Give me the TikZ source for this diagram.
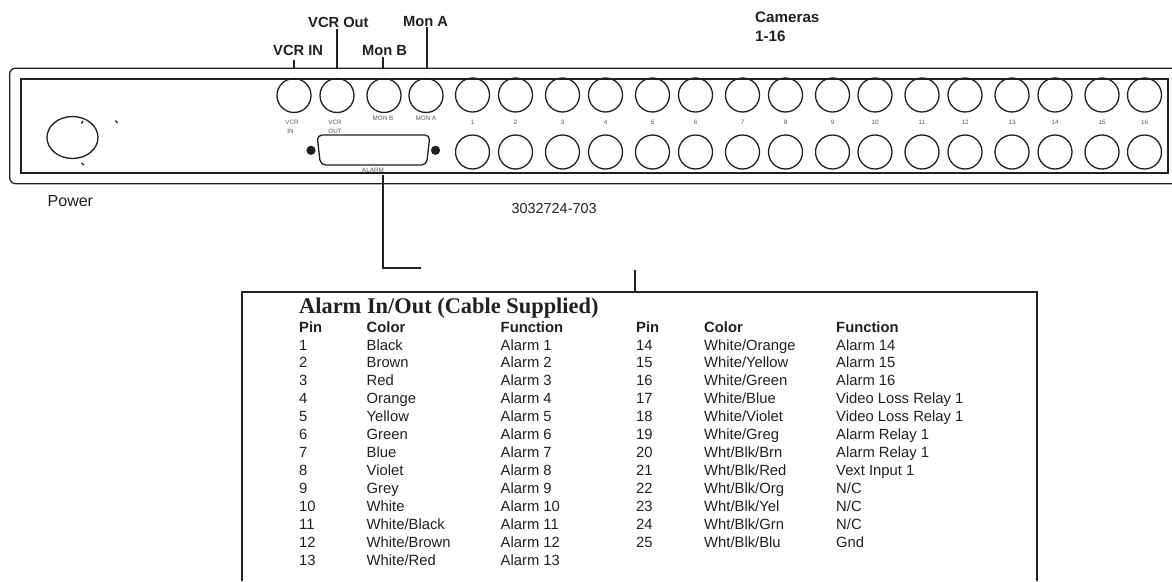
\documentclass[tikz,border=0pt]{standalone}
\usepackage{fontspec}
\usetikzlibrary{shapes.geometric}
\setmainfont{Liberation Sans}
\newfontfamily\serifbold[BoldFont={Liberation Serif Bold}]{Liberation Serif}
\definecolor{ink}{HTML}{231F20}
\tikzset{
 x=1pt,y=-1pt,
 panel/.style={draw=ink,line width=1.5pt,fill=none},
 jack/.style={circle,draw=ink,line width=1.3pt,minimum size=34pt,inner sep=0pt},
 wire/.style={draw=ink,line width=1.3pt},
 tiny/.style={font=\fontsize{6.3}{7}\selectfont,text=ink!75,inner sep=0pt,anchor=base},
 head/.style={font=\fontsize{14.7}{15}\selectfont\bfseries,text=ink,inner sep=0pt,anchor=base west},
 cell/.style={font=\fontsize{14.8}{15}\selectfont,text=ink,inner sep=0pt,anchor=base west},
 cellb/.style={font=\fontsize{14.8}{15}\selectfont\bfseries,text=ink,inner sep=0pt,anchor=base west},
}
\begin{document}
\begin{tikzpicture}
\useasboundingbox (0,0) rectangle (1172,581);
% panel
\node[draw=ink,line width=1.3pt,rounded corners=6pt,minimum width=1175pt,minimum height=115.5pt,anchor=north west,inner sep=0pt] (outer) at (9,67.5) {};
\node[panel,minimum width=1147pt,minimum height=94pt,anchor=north west,inner sep=0pt] (inner) at (20,78) {};
% jacks
\node[jack] (vin) at (294,95.5) {};
\node[jack] (vout) at (337,95.5) {};
\node[jack] (monb) at (384,95.5) {};
\node[jack] (mona) at (426,95.5) {};
\foreach \i/\x in {1/472.5,2/515.5,3/562.5,4/605.5,5/652.5,6/695.5,7/742.5,8/785.5,9/832.5,10/875,11/922,12/965,13/1012,14/1055,15/1102,16/1144.5}{
  \node[jack] (t\i) at (\x,95) {};
  \node[jack] (b\i) at (\x,152) {};
  \node[tiny] (n\i) at (\x,124) {\i};
}
% tiny labels
\node[tiny] (lv1) at (292,124) {VCR};
\node[tiny] (lv2) at (290.5,133) {IN};
\node[tiny] (lo1) at (335,124) {VCR};
\node[tiny] (lo2) at (335,133) {OUT};
\node[tiny] (lb) at (383,120) {MON B};
\node[tiny] (la) at (426,120) {MON A};
\node[tiny] (lal) at (373,172) {ALARM};
% D connector
\draw[draw=ink,line width=1.3pt,rounded corners=5pt] (317,135) -- (430,135) -- (426.5,165) -- (320.5,165) -- cycle;
\fill[ink] (311,150.3) circle (4.6pt) (435.5,150.3) circle (4.6pt);
% power
\node[ellipse,draw=ink,line width=1.3pt,minimum width=51pt,minimum height=42pt,inner sep=0pt] (pow) at (72.5,137.5) {};
\draw[ink,line width=1.3pt] (81.5,123.5) -- (83,121) (115.5,120.5) -- (117.5,123) (81.5,163) -- (84,165);
% callouts
\node[head] (tvin) at (273,55) {VCR IN};
\node[head] (tvout) at (308,27.5) {VCR Out};
\node[head] (tmonb) at (362,55) {Mon B};
\node[head] (tmona) at (403,26) {Mon A};
\coordinate (cvin) at (294,68);
\coordinate (cvout) at (337,68);
\coordinate (cmonb) at (383,68);
\coordinate (cmona) at (427,68);
\coordinate (svin) at (294,59.5);
\coordinate (svout) at (337,29);
\coordinate (smonb) at (383,57);
\coordinate (smona) at (427,27);
\draw[wire] (svin) -- (cvin);
\draw[wire] (svout) -- (cvout);
\draw[wire] (smonb) -- (cmonb);
\draw[wire] (smona) -- (cmona);
\node[head,font=\fontsize{15.2}{16}\selectfont\bfseries] (tcam1) at (755,22) {Cameras};
\node[head,font=\fontsize{15.2}{16}\selectfont\bfseries] (tcam2) at (755,41) {1-16};
\node[cell,font=\fontsize{16}{17}\selectfont] (tpow) at (47.5,206) {Power};
\node[cell,font=\fontsize{14.4}{15}\selectfont] (tnum) at (511.5,213) {3032724-703};
% table
\coordinate (tl) at (242,581);
\coordinate (tr) at (1037,581);
\draw[draw=ink,line width=1.4pt] (tl) -- (242,292) -- (1037,292) -- (tr);
\coordinate (elbowstart) at (383,175);
\coordinate (elbow) at (383,268);
\coordinate (elbowend) at (421,268);
\draw[wire] (elbowstart) -- (elbow) -- (elbowend);
\coordinate (tabtop) at (635,270);
\coordinate (tab) at (635,292);
\draw[wire] (tabtop) -- (tab);
\node[inner sep=0pt,anchor=base west,text=ink,font=\fontsize{22.4}{23}\selectfont\serifbold\bfseries] (title) at (299,313) {Alarm In/Out (Cable Supplied)};
\foreach \t/\x/\n in {Pin/299/a,Color/366.5/b,Function/500.5/c,Pin/636/d,Color/704/e,Function/836/f}{
  \node[cellb] (h\n) at (\x,332) {\t};
}
\foreach \r/\p/\c/\f in {1/1/Black/Alarm 1,2/2/Brown/Alarm 2,3/3/Red/Alarm 3,4/4/Orange/Alarm 4,5/5/Yellow/Alarm 5,6/6/Green/Alarm 6,7/7/Blue/Alarm 7,8/8/Violet/Alarm 8,9/9/Grey/Alarm 9,10/10/White/Alarm 10,11/11/White\slash Black/Alarm 11,12/12/White\slash Brown/Alarm 12,13/13/White\slash Red/Alarm 13}{
  \pgfmathsetmacro\yy{350+(\r-1)*17.92}
  \node[cell] (pa\r) at (299,\yy) {\p};
  \node[cell] (ca\r) at (366.5,\yy) {\c};
  \node[cell] (fa\r) at (500.5,\yy) {\f};
}
\foreach \r/\p/\c/\f in {1/14/White\slash Orange/Alarm 14,2/15/White\slash Yellow/Alarm 15,3/16/White\slash Green/Alarm 16,4/17/White\slash Blue/Video Loss Relay 1,5/18/White\slash Violet/Video Loss Relay 1,6/19/White\slash Greg/Alarm Relay 1,7/20/Wht\slash Blk\slash Brn/Alarm Relay 1,8/21/Wht\slash Blk\slash Red/Vext Input 1,9/22/Wht\slash Blk\slash Org/N\slash C,10/23/Wht\slash Blk\slash Yel/N\slash C,11/24/Wht\slash Blk\slash Grn/N\slash C,12/25/Wht\slash Blk\slash Blu/Gnd}{
  \pgfmathsetmacro\yy{350+(\r-1)*17.92}
  \node[cell] (pb\r) at (636,\yy) {\p};
  \node[cell] (cb\r) at (704,\yy) {\c};
  \node[cell] (fb\r) at (836,\yy) {\f};
}
\end{tikzpicture}
\end{document}
